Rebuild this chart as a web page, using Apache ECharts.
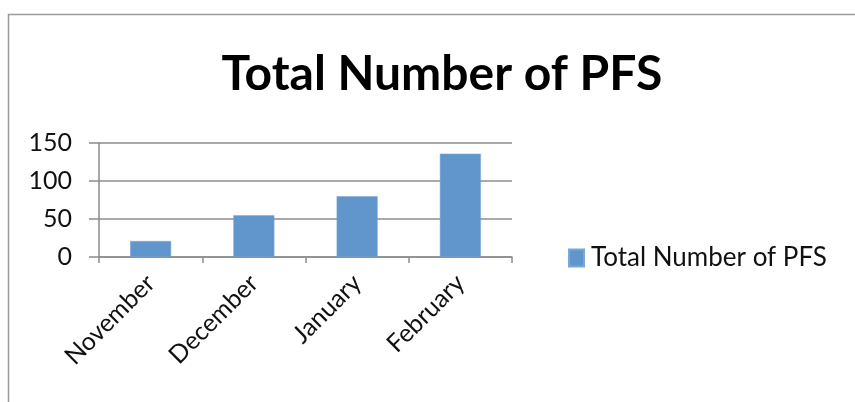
<!DOCTYPE html>
<html><head><meta charset="utf-8">
<script src="https://cdn.jsdelivr.net/npm/echarts@6/dist/echarts.min.js"></script>
<style>html,body{margin:0;padding:0;background:#fff}#c{width:855px;height:402px}</style>
</head><body><div id="c"></div>
<script>
const categories = ["November", "December", "January", "February"];
const pfsValues = [21, 55, 80, 136];
const yTicks = [0, 50, 100, 150];
const seriesName = "Total Number of PFS";
const titleText = "Total Number of PFS";

const chart = echarts.init(document.getElementById('c'));
const font = 'Lato, "Open Sans", sans-serif';
chart.setOption({
  animation: false,
  backgroundColor: '#fff',
  graphic: [{
    type: 'rect', left: 6, top: 12, silent: true,
    shape: { width: 900, height: 500 },
    style: { fill: 'none', stroke: '#9a9a9a', lineWidth: 1.5 }
  }],
  title: {
    text: titleText, left: 437, top: 46, textAlign: 'center',
    textStyle: { fontFamily: font, fontWeight: 'bold', fontSize: 48, color: '#000' }
  },
  legend: {
    data: [seriesName], left: 568, top: 245, padding: 0, icon: 'rect',
    itemWidth: 15, itemHeight: 17, itemGap: 4,
    textStyle: { fontFamily: font, fontSize: 26, color: '#111', padding: [0, 0, 0, 2] }
  },
  grid: { left: 99, right: 343, top: 143, bottom: 145, containLabel: false },
  xAxis: {
    type: 'category', data: categories,
    axisLine: { lineStyle: { color: '#8c8c8c', width: 1.5 } },
    axisTick: { show: true, length: 6, lineStyle: { color: '#8c8c8c', width: 1.5 } },
    axisLabel: { rotate: 45, margin: 22, fontFamily: font, fontSize: 25, color: '#111' }
  },
  yAxis: {
    type: 'value', min: yTicks[0], max: yTicks[yTicks.length - 1], interval: 50,
    axisLine: { show: true, lineStyle: { color: '#8c8c8c', width: 1.5 } },
    axisTick: { show: true, length: 10, lineStyle: { color: '#8c8c8c', width: 1.5 } },
    splitLine: { lineStyle: { color: '#8c8c8c', width: 1.5 } },
    axisLabel: { margin: 27, fontFamily: font, fontSize: 25, color: '#111' }
  },
  series: [{
    name: seriesName, type: 'bar', data: pfsValues, barWidth: 41,
    itemStyle: { color: '#6096cc', borderColor: '#7aa7d6', borderWidth: 0.5 }
  }]
});
</script></body></html>
